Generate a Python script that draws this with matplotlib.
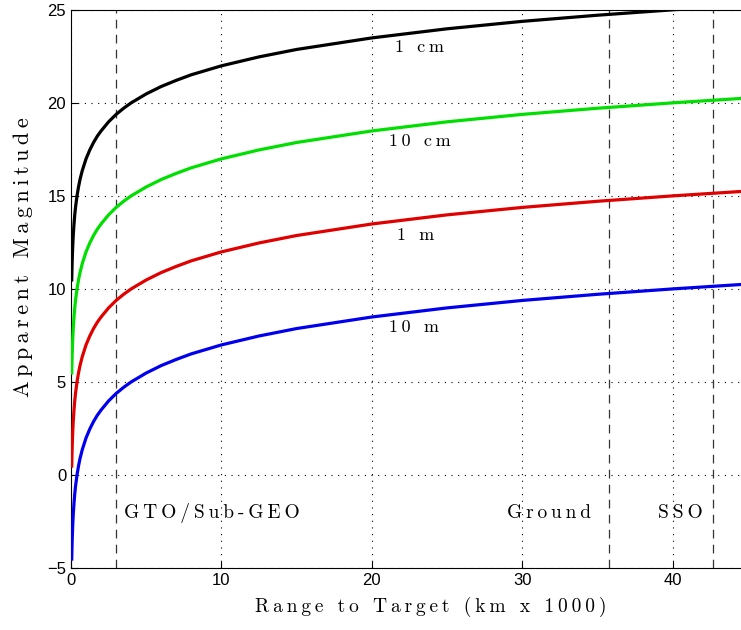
import matplotlib.pyplot as plt

# range to target (km x 1000)
rng = [0.05, 0.06, 0.07, 0.08, 0.1, 0.12, 0.15, 0.2, 0.25, 0.3, 0.4, 0.5, 0.6,
       0.75, 1, 1.25, 1.5, 1.75, 2, 2.5, 3, 3.5, 4, 5, 6, 7, 8, 10, 12.5, 15,
       20, 25, 30, 35, 40, 44.6]
# apparent magnitude for each object size
mag_1cm = [10.48, 10.88, 11.21, 11.51, 11.99, 12.39, 12.87, 13.49, 13.98, 14.38,
           15.0, 15.48, 15.88, 16.36, 16.99, 17.47, 17.87, 18.21, 18.49, 18.98,
           19.38, 19.71, 20.0, 20.48, 20.88, 21.21, 21.51, 21.99, 22.47, 22.87,
           23.49, 23.98, 24.38, 24.71, 25.0, 25.24]
mag_10cm = [5.48, 5.88, 6.21, 6.51, 6.99, 7.39, 7.87, 8.49, 8.98, 9.38,
            10.0, 10.48, 10.88, 11.36, 11.99, 12.47, 12.87, 13.21, 13.49, 13.98,
            14.38, 14.71, 15.0, 15.48, 15.88, 16.21, 16.51, 16.99, 17.47, 17.87,
            18.49, 18.98, 19.38, 19.71, 20.0, 20.24]
mag_1m = [0.48, 0.88, 1.21, 1.51, 1.99, 2.39, 2.87, 3.49, 3.98, 4.38,
          5.0, 5.48, 5.88, 6.36, 6.99, 7.47, 7.87, 8.21, 8.49, 8.98,
          9.38, 9.71, 10.0, 10.48, 10.88, 11.21, 11.51, 11.99, 12.47, 12.87,
          13.49, 13.98, 14.38, 14.71, 15.0, 15.24]
mag_10m = [-4.52, -4.12, -3.79, -3.49, -3.01, -2.61, -2.13, -1.51, -1.02, -0.62,
           0.0, 0.48, 0.88, 1.36, 1.99, 2.47, 2.87, 3.21, 3.49, 3.98,
           4.38, 4.71, 5.0, 5.48, 5.88, 6.21, 6.51, 6.99, 7.47, 7.87,
           8.49, 8.98, 9.38, 9.71, 10.0, 10.24]

curve_labels = ['1 cm', '10 cm', '1 m', '10 m']
label_pos = [(23.2, 23.0), (23.2, 17.95), (22.9, 12.9), (22.8, 7.95)]

orbits = ['GTO/Sub-GEO', 'Ground', 'SSO']
orbit_x = [3.0, 35.8, 42.7]
orbit_text_x = [3.5, 31.8, 40.5]

serif = ['cmr10', 'DejaVu Serif']


def spaced(s):
    # letter-spaced look of the original (thin space between glyphs)
    return '\u2009'.join(s)


fig = plt.figure(figsize=(7.41, 6.30), dpi=100)
ax = fig.add_axes([0.0958, 0.0984, 0.9042, 0.886])

for y, c in zip([mag_1cm, mag_10cm, mag_1m, mag_10m],
                ['black', '#00e000', '#e00000', '#0000ee']):
    ax.plot(rng, y, color=c, lw=2.3, zorder=3)

for xv in orbit_x:
    ax.axvline(xv, color='#333333', ls=(0, (7, 5)), lw=0.9, zorder=2)

for lab, (tx, ty) in zip(curve_labels, label_pos):
    ax.text(tx, ty, spaced(lab), family=serif, fontsize=13,
            ha='center', va='center')

ax.text(orbit_text_x[0], -2.05, spaced(orbits[0]), family=serif, fontsize=14,
        ha='left', va='center')
ax.text(orbit_text_x[1], -2.05, spaced(orbits[1]), family=serif, fontsize=14,
        ha='center', va='center')
ax.text(orbit_text_x[2], -2.05, spaced(orbits[2]), family=serif, fontsize=14,
        ha='center', va='center')

ax.set_xlim(0, 44.55)
ax.set_ylim(-5, 25)
ax.set_xticks([0, 10, 20, 30, 40])
ax.set_yticks([-5, 0, 5, 10, 15, 20, 25])
ax.set_yticklabels(['\u22125', '0', '5', '10', '15', '20', '25'])
ax.tick_params(direction='in', length=5, labelsize=12, width=0.8)
for t in ax.get_xticklabels() + ax.get_yticklabels():
    t.set_family('Liberation Sans')
ax.grid(True, color='black', ls=(0, (1, 5)), lw=0.8)
ax.spines['right'].set_visible(False)

ax.set_xlabel(spaced('Range to Target (km x 1000)'), family=serif, fontsize=14)
ax.set_ylabel(spaced('Apparent Magnitude'), family=serif, fontsize=16)
ax.xaxis.set_label_coords(0.537, -0.052)
ax.yaxis.set_label_coords(-0.057, 0.557)

fig.savefig('out.png', dpi=100)
